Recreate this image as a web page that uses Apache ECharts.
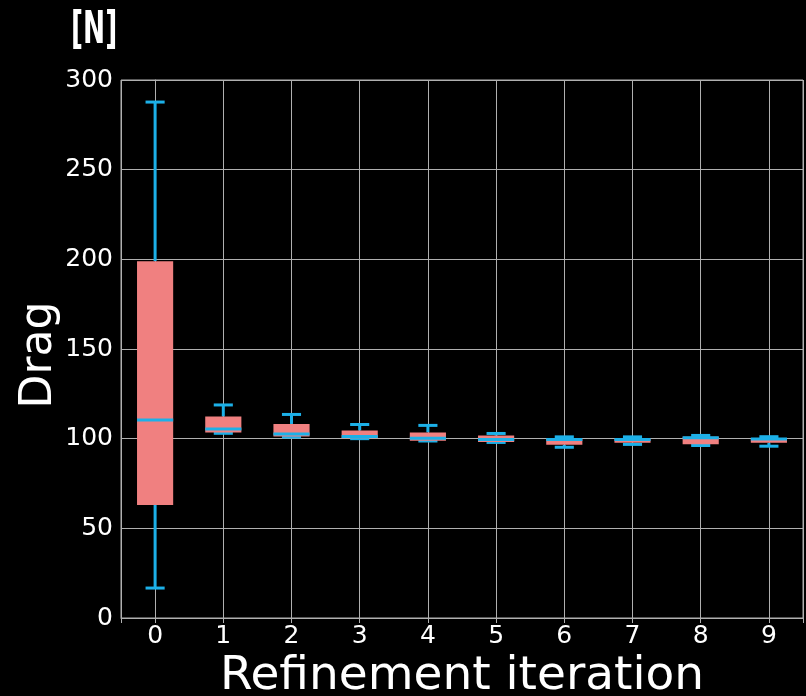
<!DOCTYPE html>
<html>
<head>
<meta charset="utf-8">
<script src="https://cdn.jsdelivr.net/npm/echarts@6/dist/echarts.min.js"></script>
<style>
  html, body { margin: 0; padding: 0; background: #000; }
  #chart { width: 806px; height: 696px; }
</style>
</head>
<body>
<div id="chart"></div>
<script>
// Drag force per refinement iteration (box-and-whisker summary)
const iterations = ['0', '1', '2', '3', '4', '5', '6', '7', '8', '9'];
const whiskerLow  = [16.7, 103.0, 100.9, 100.0, 98.7, 97.9, 95.2, 96.8, 96.2, 95.8];
const quartile1   = [63.0, 103.4, 101.2, 100.3, 98.9, 98.1, 96.6, 97.7, 96.9, 97.7];
const medians     = [110.4, 105.4, 102.6, 101.2, 100.2, 99.6, 99.6, 99.5, 100.5, 99.8];
const quartile3   = [199.0, 112.3, 108.2, 104.5, 103.5, 101.7, 100.2, 100.2, 101.1, 100.3];
const whiskerHigh = [287.7, 118.8, 113.5, 107.9, 107.4, 102.9, 101.0, 101.0, 101.8, 101.1];
const yTicks = { min: 0, max: 300, interval: 50 };

const BOX_COLOR = '#f08080';
const LINE_COLOR = '#1cb0e8';
const GRID_COLOR = '#b0b0b0';
const TEXT_COLOR = '#ffffff';
const FONT = 'DejaVu Sans';

const rows = iterations.map((_, i) => [i, whiskerLow[i], quartile1[i], medians[i], quartile3[i], whiskerHigh[i]]);

function renderBox(params, api) {
  const x = api.value(0);
  const band = api.size([1, 0])[0];
  const boxW = band * 0.53;
  const capW = band * 0.28;
  const cx = api.coord([x, 0])[0];
  const yLow = api.coord([x, api.value(1)])[1];
  const yQ1 = api.coord([x, api.value(2)])[1];
  const yMed = api.coord([x, api.value(3)])[1];
  const yQ3 = api.coord([x, api.value(4)])[1];
  const yHigh = api.coord([x, api.value(5)])[1];
  const lineStyle = { stroke: LINE_COLOR, lineWidth: 3 };
  return {
    type: 'group',
    children: [
      { type: 'line', shape: { x1: cx, y1: yLow, x2: cx, y2: yQ1 }, style: lineStyle },
      { type: 'line', shape: { x1: cx, y1: yQ3, x2: cx, y2: yHigh }, style: lineStyle },
      { type: 'line', shape: { x1: cx - capW / 2, y1: yLow, x2: cx + capW / 2, y2: yLow }, style: lineStyle },
      { type: 'line', shape: { x1: cx - capW / 2, y1: yHigh, x2: cx + capW / 2, y2: yHigh }, style: lineStyle },
      { type: 'rect', shape: { x: cx - boxW / 2, y: yQ3, width: boxW, height: yQ1 - yQ3 }, style: { fill: BOX_COLOR } },
      { type: 'line', shape: { x1: cx - boxW / 2, y1: yMed, x2: cx + boxW / 2, y2: yMed }, style: lineStyle }
    ]
  };
}

const chart = echarts.init(document.getElementById('chart'), null, { renderer: 'canvas' });
chart.setOption({
  backgroundColor: '#000000',
  animation: false,
  graphic: [{
    type: 'text',
    x: 71,
    y: 10,
    scaleX: 0.6,
    style: {
      text: '[N]',
      fill: TEXT_COLOR,
      font: 'bold 44px "DejaVu Sans"',
      textVerticalAlign: 'top'
    }
  }],
  grid: {
    left: 121, right: 3, top: 80, bottom: 78,
    outerBoundsMode: 'none',
    containLabel: false,
    show: true, borderColor: GRID_COLOR, borderWidth: 1, backgroundColor: 'transparent'
  },
  xAxis: {
    type: 'value',
    min: -0.5,
    max: 9.5,
    splitNumber: 10,
    name: 'Refinement iteration',
    nameLocation: 'middle',
    nameGap: 35,
    nameMoveOverlap: false,
    nameTextStyle: { color: TEXT_COLOR, fontSize: 47, fontFamily: FONT },
    axisLine: { show: true, lineStyle: { color: GRID_COLOR, width: 1 } },
    axisTick: { show: true, inside: false, length: 5, lineStyle: { color: GRID_COLOR } },
    axisLabel: {
      color: TEXT_COLOR, fontSize: 25, fontFamily: FONT, margin: 6,
      formatter: v => (Number.isInteger(v) && iterations[v] !== undefined) ? iterations[v] : ''
    },
    splitLine: { show: true, lineStyle: { color: GRID_COLOR, width: 1 } }
  },
  yAxis: {
    type: 'value',
    min: yTicks.min,
    max: yTicks.max,
    interval: yTicks.interval,
    name: 'Drag',
    nameLocation: 'middle',
    nameGap: 59,
    nameMoveOverlap: false,
    nameTextStyle: { color: TEXT_COLOR, fontSize: 44, fontFamily: FONT, padding: [0, 12, 0, 0] },
    axisLine: { show: true, lineStyle: { color: GRID_COLOR, width: 1 } },
    axisTick: { show: true, inside: false, length: 5, lineStyle: { color: GRID_COLOR } },
    axisLabel: { color: TEXT_COLOR, fontSize: 25, fontFamily: FONT, margin: 8 },
    splitLine: { show: true, lineStyle: { color: GRID_COLOR, width: 1 } }
  },
  series: [{
    type: 'custom',
    renderItem: renderBox,
    encode: { x: 0, y: [1, 2, 3, 4, 5] },
    data: rows,
    clip: false
  }]
});
</script>
</body>
</html>
